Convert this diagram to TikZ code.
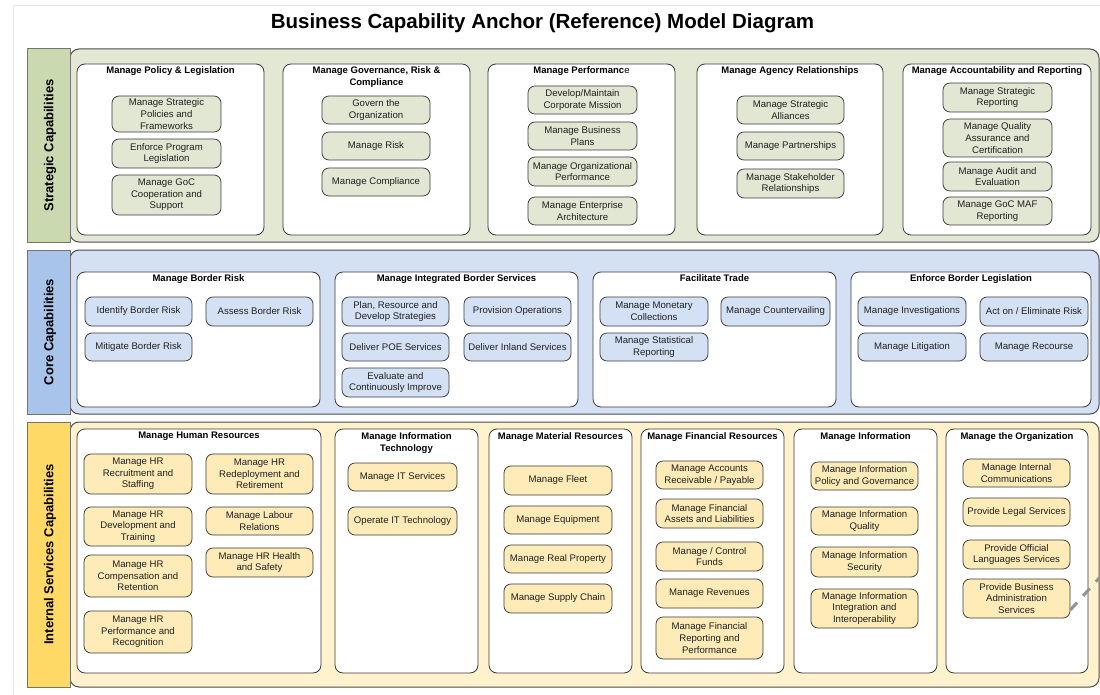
\documentclass[tikz,border=0pt]{standalone}
\usepackage{fontspec}
\setmainfont{Liberation Sans}
\newcommand\cbTitleFont{\fontsize{20.5}{24}\bfseries\selectfont}
\newcommand\cbBandFont{\fontsize{13}{15}\bfseries\selectfont}
\newcommand\cbSubFont{\fontsize{9.5}{12}\bfseries\selectfont}
\newcommand\cbItemFont{\fontsize{9.6}{11.6}\selectfont}
\definecolor{sgreenD}{HTML}{CAD9B0}
\definecolor{sgreenL}{HTML}{E3E8D5}
\definecolor{sgreenI}{HTML}{E2E7D4}
\definecolor{cblueD}{HTML}{A9C4EB}
\definecolor{cblueL}{HTML}{D4E1F5}
\definecolor{cblueI}{HTML}{D4E1F5}
\definecolor{iyelD}{HTML}{FFD966}
\definecolor{iyelL}{HTML}{FFF2CC}
\definecolor{iyelI}{HTML}{FFEBB8}
\definecolor{framegray}{HTML}{E6E6E6}
\definecolor{linedark}{HTML}{3A3A3A}
\tikzset{
  bx/.style n args={4}{minimum width={#3-#1}, minimum height={#4-#2}, at={({(#1+#3)/2},{(#2+#4)/2})}, anchor=center},
  item/.style={draw=linedark, line width=0.75pt, rounded corners=7pt, inner sep=0pt, align=center, font=\cbItemFont, text=black!88},
  sitem/.style={item, fill=sgreenI},
  citem/.style={item, fill=cblueI},
  iitem/.style={item, fill=iyelI},
  subbox/.style={draw=linedark, fill=white, rounded corners=8pt, line width=0.8pt, inner sep=0pt},
  subtitle/.style={font=\cbSubFont, align=center, anchor=north, inner sep=0pt},
  panel/.style={draw=black!70, rounded corners=9pt, line width=1pt, inner sep=0pt},
  bandlabel/.style={draw=black!55, line width=1pt, inner sep=0pt},
  bandtext/.style={rotate=90, font=\cbBandFont, inner sep=0pt},
  connector/.style={draw=gray!85, line width=3pt, dash pattern=on 10pt off 9pt}
}
\begin{document}
\begin{tikzpicture}[x=1pt, y=-1pt]
\useasboundingbox (0,0) rectangle (1100,695);
\fill[white] (0,0) rectangle (1100,695);
\draw[framegray, line width=1pt] (13,695) -- (13,6) -- (1100,6);

\node[font=\cbTitleFont, anchor=base, inner sep=0pt] (title) at (542.5,28.5) {Business Capability Anchor (Reference) Model Diagram};

% ===== Strategic =====
\node[panel, fill=sgreenL, bx={70}{49}{1099}{242}] (spanel) {};
\node[bandlabel, fill=sgreenD, bx={27}{49}{70}{242}] (slabel) {};
\node[bandtext] at ([xshift=1.5pt]slabel.center) {Strategic Capabilities};

\node[subbox, bx={77}{64}{264}{235}] (s1) {};
\node[subtitle] at (s1.north |- 0,66.5) {Manage Policy \& Legislation};
\node[sitem, bx={112}{96}{221}{132}] (s1a) {Manage Strategic\\Policies and\\Frameworks};
\node[sitem, bx={112}{139}{221}{168}] (s1b) {Enforce Program\\Legislation};
\node[sitem, bx={112}{175}{221}{215}] (s1c) {Manage GoC\\Cooperation and\\Support};

\node[subbox, bx={283}{64}{470}{235}] (s2) {};
\node[subtitle] at (s2.north |- 0,66.5) {Manage Governance, Risk \&\\Compliance};
\node[sitem, bx={322}{96}{430}{124}] (s2a) {Govern the\\Organization};
\node[sitem, bx={322}{132}{430}{160}] (s2b) {Manage Risk};
\node[sitem, bx={322}{168}{430}{196}] (s2c) {Manage Compliance};

\node[subbox, bx={488}{64}{675}{235}] (s3) {};
\node[subtitle] at (s3.north |- 0,66.5) {Manage Performanc{\mdseries e}};
\node[sitem, bx={528}{86}{637}{114}] (s3a) {Develop/Maintain\\Corporate Mission};
\node[sitem, bx={528}{122}{637}{150}] (s3b) {Manage Business\\Plans};
\node[sitem, bx={528}{157}{637}{186}] (s3c) {Manage Organizational\\Performance};
\node[sitem, bx={528}{197}{637}{225}] (s3d) {Manage Enterprise\\Architecture};

\node[subbox, bx={697}{64}{883}{235}] (s4) {};
\node[subtitle] at (s4.north |- 0,66.5) {Manage Agency Relationships};
\node[sitem, bx={737}{96}{844}{124}] (s4a) {Manage Strategic\\Alliances};
\node[sitem, bx={737}{132}{844}{160}] (s4b) {Manage Partnerships};
\node[sitem, bx={737}{169}{844}{198}] (s4c) {Manage Stakeholder\\Relationships};

\node[subbox, bx={903}{64}{1091}{235}] (s5) {};
\node[subtitle] at (s5.north |- 0,66.5) {Manage Accountability and Reporting};
\node[sitem, bx={943}{83}{1052}{112}] (s5a) {Manage Strategic\\Reporting};
\node[sitem, bx={943}{119}{1052}{157}] (s5b) {Manage Quality\\Assurance and\\Certification};
\node[sitem, bx={943}{162}{1052}{191}] (s5c) {Manage Audit and\\Evaluation};
\node[sitem, bx={943}{197}{1052}{225}] (s5d) {Manage GoC MAF\\Reporting};

% ===== Core =====
\node[panel, fill=cblueL, bx={70}{250}{1099}{414}] (cpanel) {};
\node[bandlabel, fill=cblueD, bx={27}{250}{70}{414}] (clabel) {};
\node[bandtext] at ([xshift=1.5pt]clabel.center) {Core Capabilities};

\node[subbox, bx={77}{272}{320}{407}] (c1) {};
\node[subtitle] at (c1.north |- 0,274.5) {Manage Border Risk};
\node[citem, bx={85}{297}{192}{326}] (c1a) {Identify Border Risk};
\node[citem, bx={206}{297}{313}{326}] (c1b) {Assess Border Risk};
\node[citem, bx={85}{333}{192}{361}] (c1c) {Mitigate Border Risk};

\node[subbox, bx={335}{272}{578}{407}] (c2) {};
\node[subtitle] at (c2.north |- 0,274.5) {Manage Integrated Border Services};
\node[citem, bx={342}{297}{449}{326}] (c2a) {Plan, Resource and\\Develop Strategies};
\node[citem, bx={464}{297}{571}{326}] (c2b) {Provision Operations};
\node[citem, bx={342}{333}{449}{361}] (c2c) {Deliver POE Services};
\node[citem, bx={464}{333}{571}{361}] (c2d) {Deliver Inland Services};
\node[citem, bx={342}{368}{449}{397}] (c2e) {Evaluate and\\Continuously Improve};

\node[subbox, bx={593}{272}{836}{407}] (c3) {};
\node[subtitle] at (c3.north |- 0,274.5) {Facilitate Trade};
\node[citem, bx={600}{297}{708}{326}] (c3a) {Manage Monetary\\Collections};
\node[citem, bx={721}{297}{830}{326}] (c3b) {Manage Countervailing};
\node[citem, bx={600}{333}{708}{361}] (c3c) {Manage Statistical\\Reporting};

\node[subbox, bx={851}{272}{1091}{407}] (c4) {};
\node[subtitle] at (c4.north |- 0,274.5) {Enforce Border Legislation};
\node[citem, bx={858}{297}{966}{326}] (c4a) {Manage Investigations};
\node[citem, bx={980}{297}{1088}{326}] (c4b) {Act on / Eliminate Risk};
\node[citem, bx={858}{333}{966}{361}] (c4c) {Manage Litigation};
\node[citem, bx={980}{333}{1088}{361}] (c4d) {Manage Recourse};

% ===== Internal =====
\node[panel, fill=iyelL, bx={70}{422}{1099}{687}] (ipanel) {};
\node[bandlabel, fill=iyelD, bx={27}{422}{70}{687}] (ilabel) {};
\node[bandtext] at ([xshift=1.5pt]ilabel.center) {Internal Services Capabilities};

\node[subbox, bx={77}{429}{321}{673}] (i1) {};
\node[subtitle] at (i1.north |- 0,432) {Manage Human Resources};
\node[iitem, bx={84}{454}{192}{494}] (i1a) {Manage HR\\Recruitment and\\Staffing};
\node[iitem, bx={206}{454}{313}{494}] (i1b) {Manage HR\\Redeployment and\\Retirement};
\node[iitem, bx={84}{507}{192}{546}] (i1c) {Manage HR\\Development and\\Training};
\node[iitem, bx={206}{507}{313}{535}] (i1d) {Manage Labour\\Relations};
\node[iitem, bx={206}{548}{313}{577}] (i1e) {Manage HR Health\\and Safety};
\node[iitem, bx={84}{555}{192}{597}] (i1f) {Manage HR\\Compensation and\\Retention};
\node[iitem, bx={84}{611}{192}{653}] (i1g) {Manage HR\\Performance and\\Recognition};

\node[subbox, bx={335}{429}{478}{673}] (i2) {};
\node[subtitle] at (i2.north |- 0,432) {Manage Information\\Technology};
\node[iitem, bx={348}{463}{457}{491}] (i2a) {Manage IT Services};
\node[iitem, bx={348}{507}{457}{535}] (i2b) {Operate IT Technology};

\node[subbox, bx={489}{429}{632}{673}] (i3) {};
\node[subtitle] at (i3.north |- 0,432) {Manage Material Resources};
\node[iitem, bx={504}{466}{612}{495}] (i3a) {Manage Fleet};
\node[iitem, bx={504}{506}{612}{534}] (i3b) {Manage Equipment};
\node[iitem, bx={504}{545}{612}{573}] (i3c) {Manage Real Property};
\node[iitem, bx={504}{584}{612}{613}] (i3d) {Manage Supply Chain};

\node[subbox, bx={641}{429}{784}{673}] (i4) {};
\node[subtitle] at (i4.north |- 0,432) {Manage Financial Resources};
\node[iitem, bx={656}{461}{763}{489}] (i4a) {Manage Accounts\\Receivable / Payable};
\node[iitem, bx={656}{499}{763}{528}] (i4b) {Manage Financial\\Assets and Liabilities};
\node[iitem, bx={656}{542}{763}{571}] (i4c) {Manage / Control\\Funds};
\node[iitem, bx={656}{579}{763}{608}] (i4d) {Manage Revenues};
\node[iitem, bx={656}{617}{763}{659}] (i4e) {Manage Financial\\Reporting and\\Performance};

\node[subbox, bx={794}{429}{937}{673}] (i5) {};
\node[subtitle] at (i5.north |- 0,432) {Manage Information};
\node[iitem, bx={811}{462}{918}{490}] (i5a) {Manage Information\\Policy and Governance};
\node[iitem, bx={811}{507}{918}{535}] (i5b) {Manage Information\\Quality};
\node[iitem, bx={811}{547}{918}{577}] (i5c) {Manage Information\\Security};
\node[iitem, bx={811}{589}{918}{628}] (i5d) {Manage Information\\Integration and\\Interoperability};

\node[subbox, bx={946}{429}{1088}{673}] (i6) {};
\node[subtitle] at (i6.north |- 0,432) {Manage the Organization};
\node[iitem, bx={963}{459}{1070}{487}] (i6a) {Manage Internal\\Communications};
\node[iitem, bx={963}{498}{1070}{526}] (i6b) {Provide Legal Services};
\node[iitem, bx={963}{540}{1070}{569}] (i6c) {Provide Official\\Languages Services};
\node[iitem, bx={963}{579}{1070}{618}] (i6d) {Provide Business\\Administration\\Services};

\coordinate (cutend) at (1110,566);
\draw[connector] (i6d.-12) -- (cutend);
\end{tikzpicture}
\end{document}
